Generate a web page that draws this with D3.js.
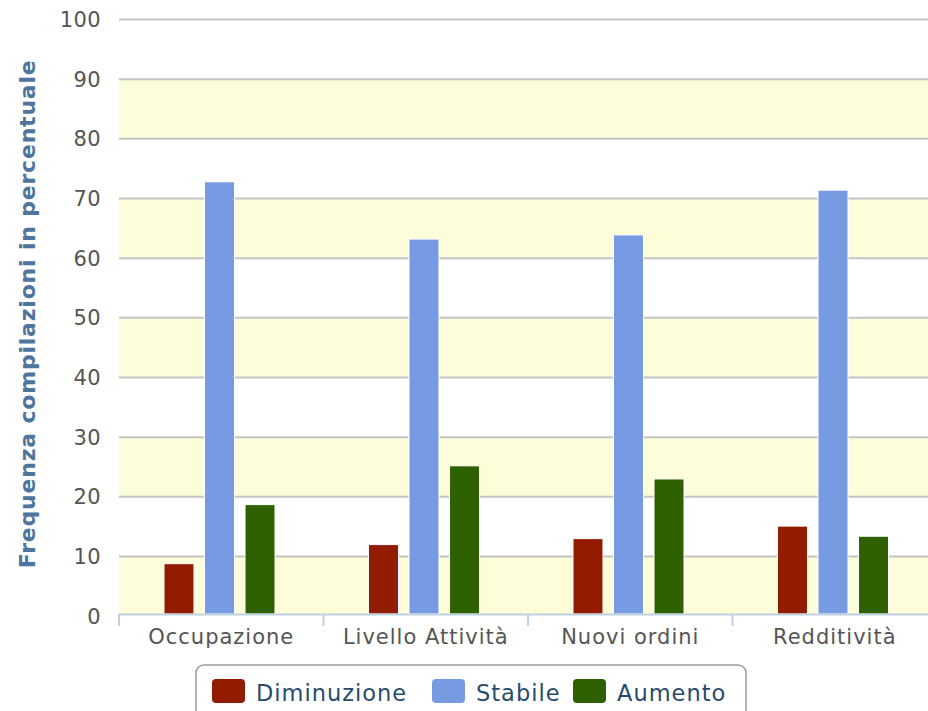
<!DOCTYPE html>
<html>
<head>
<meta charset="utf-8">
<script src="https://cdn.jsdelivr.net/npm/d3@7"></script>
<style>
  body { margin: 0; background: #fff; }
  svg { display: block; font-family: "DejaVu Sans", sans-serif; }
</style>
</head>
<body>
<div id="grafico"></div>
<script>
// dati
const categorie = ["Occupazione", "Livello Attività", "Nuovi ordini", "Redditività"]
const serie = ["Diminuzione", "Stabile", "Aumento"]
const diminuzione = [8.8, 12.0, 13.0, 15.1]
const stabile = [72.8, 63.2, 63.9, 71.4]
const aumento = [18.7, 25.2, 23.0, 13.4]
const yTicks = [0, 10, 20, 30, 40, 50, 60, 70, 80, 90, 100]
const colori = ["#921b00", "#769be3", "#2e6000"]

const valori = { Diminuzione: diminuzione, Stabile: stabile, Aumento: aumento }

const anchoTotal = 928
const altoTotal = 711
const plot = { left: 119, right: 937, top: 19.5, bottom: 616.2 }
const baseY = 614

const svg = d3.select("#grafico")
  .append("svg")
    .attr("width", anchoTotal)
    .attr("height", altoTotal)

const x = d3.scaleBand()
  .domain(categorie)
  .range([plot.left, plot.right])

const xSerie = d3.scaleBand()
  .domain(serie)
  .range([45, 156])
  .paddingInner(0.26)

const y = d3.scaleLinear()
  .domain([0, 100])
  .range([plot.bottom, plot.top])

// bande alternate
const bande = d3.range(0, 100, 20)
svg.append("g")
  .selectAll("rect")
  .data(bande)
  .join("rect")
    .attr("x", plot.left)
    .attr("width", plot.right - plot.left)
    .attr("y", d => y(d + 10))
    .attr("height", d => Math.min(y(d), baseY) - y(d + 10))
    .attr("fill", "#fdfdd9")

// griglia
svg.append("g")
  .selectAll("line")
  .data(yTicks.slice(1))
  .join("line")
    .attr("x1", plot.left)
    .attr("x2", plot.right)
    .attr("y1", d => y(d))
    .attr("y2", d => y(d))
    .attr("stroke", "#c4c4c4")
    .attr("stroke-width", 2)

// etichette asse y
svg.append("g")
  .selectAll("text")
  .data(yTicks)
  .join("text")
    .attr("x", 101)
    .attr("y", d => y(d))
    .attr("dy", "0.36em")
    .attr("text-anchor", "end")
    .attr("font-size", "21px")
    .attr("letter-spacing", "0.4px")
    .attr("fill", "#555")
    .text(d => d)

svg.append("text")
  .attr("transform", `translate(35, ${(plot.top + plot.bottom) / 2 - 4}) rotate(-90)`)
  .attr("text-anchor", "middle")
  .attr("font-size", "22px")
  .attr("font-weight", "bold")
  .attr("letter-spacing", "0.8px")
  .attr("fill", "#4d759e")
  .text("Frequenza compilazioni in percentuale")

// barre
const gruppi = svg.append("g")
  .selectAll("g")
  .data(categorie)
  .join("g")
    .attr("transform", d => `translate(${x(d)},0)`)

gruppi.selectAll("rect")
  .data((c, i) => serie.map((s, k) => ({ serie: s, valore: valori[s][i], colore: colori[k] })))
  .join("rect")
    .attr("x", d => xSerie(d.serie))
    .attr("width", xSerie.bandwidth())
    .attr("y", d => y(d.valore))
    .attr("height", d => baseY - y(d.valore))
    .attr("fill", d => d.colore)
    .attr("stroke", "#ffffff")
    .attr("stroke-width", 1)

// asse x
const gX = svg.append("g")
  .attr("transform", `translate(0, ${baseY})`)
  .call(d3.axisBottom(x).tickSize(0).tickPadding(15))

gX.select(".domain")
  .attr("stroke", "#c0d0e0")
  .attr("stroke-width", 2)

gX.selectAll("text")
  .attr("font-family", "DejaVu Sans, sans-serif")
  .attr("font-size", "21px")
  .attr("letter-spacing", "1px")
  .attr("fill", "#555")

// tacche ai bordi delle categorie
svg.append("g")
  .selectAll("line")
  .data(categorie)
  .join("line")
    .attr("x1", d => x(d))
    .attr("x2", d => x(d))
    .attr("y1", baseY)
    .attr("y2", baseY + 12)
    .attr("stroke", "#c0d0e0")
    .attr("stroke-width", 2)

// legenda
const legenda = svg.append("g")
svg.append("rect")
  .attr("x", 196)
  .attr("y", 665)
  .attr("width", 550)
  .attr("height", 70)
  .attr("rx", 8)
  .attr("fill", "none")
  .attr("stroke", "#9a9a9a")
  .attr("stroke-width", 1.5)

const posLegenda = [212, 432, 573]
const voci = legenda.selectAll("g")
  .data(serie)
  .join("g")
    .attr("transform", (d, i) => `translate(${posLegenda[i]}, 0)`)

voci.append("rect")
  .attr("x", 0)
  .attr("y", 679)
  .attr("width", 33)
  .attr("height", 24)
  .attr("rx", 4)
  .attr("fill", (d, i) => colori[i])

voci.append("text")
  .attr("x", 44)
  .attr("y", 701)
  .attr("font-size", "22.5px")
  .attr("letter-spacing", "1px")
  .attr("fill", "#274b6d")
  .text(d => d)
</script>
</body>
</html>
